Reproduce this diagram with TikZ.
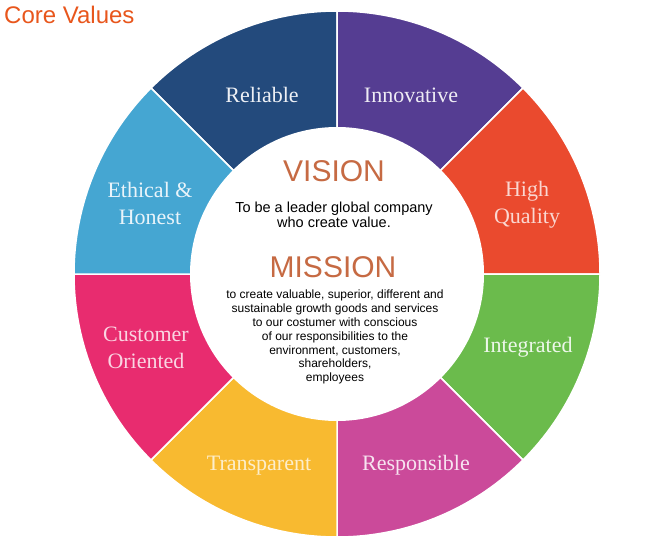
\documentclass[tikz,border=0pt]{standalone}
\usepackage{fontspec}
\setmainfont{Liberation Serif}
\newfontfamily\sansfont{Liberation Sans}
\definecolor{reliable}{HTML}{234A7C}
\definecolor{innovative}{HTML}{553D92}
\definecolor{quality}{HTML}{EA4A2E}
\definecolor{integrated}{HTML}{6BBB4C}
\definecolor{responsible}{HTML}{CB4A9A}
\definecolor{transparent}{HTML}{F8BA30}
\definecolor{customer}{HTML}{E82C6F}
\definecolor{ethical}{HTML}{45A6D2}
\definecolor{titlecol}{HTML}{E8561C}
\definecolor{headcol}{HTML}{C66A43}
\tikzset{
  wedge/.style={draw=white, line width=1.5pt},
  value/.style={align=center, inner sep=0pt, font=\fontsize{22}{27}\selectfont},
  heading/.style={inner sep=0pt, text=headcol, font=\sansfont\fontsize{30}{32}\selectfont},
  body/.style={align=center, inner sep=0pt}
}
\begin{document}
\begin{tikzpicture}[x=1pt,y=1pt]
\useasboundingbox (0,0) rectangle (650,550);
\coordinate (O) at (337,276);
% ring of values
\foreach \a/\c in {90/reliable, 45/innovative, 0/quality, -45/integrated,
  -90/responsible, -135/transparent, 180/customer, 135/ethical}
  \filldraw[wedge, fill=\c] (O) -- ++(\a:263) arc[start angle=\a, delta angle=45, radius=263] -- cycle;
\node (hub) [circle, fill=white, inner sep=0pt, minimum size=294pt] at (O) {};

\node (rel) [value, text=reliable!8] at (262,455) {Reliable};
\node (inn) [value, text=innovative!10] at (411,455) {Innovative};
\node (hiq) [value, text=quality!22] at (527,345) {High\\Quality};
\node (int) [value, text=integrated!12] at (528,203) {Integrated};
\node (res) [value, text=responsible!15] at (416,85) {Responsible};
\node (tra) [value, text=transparent!25] at (259,84) {Transparent};
\node (cus) [value, text=customer!20] at (146,202) {Customer\\Oriented};
\node (eth) [value, text=ethical!12] at (150,347) {Ethical \&\\Honest};

% centre text
\node (vision) [heading] at (334,379) {VISION};
\node (vistext) [body, font=\sansfont\fontsize{14.5}{15.5}\selectfont] at (334,335)
  {To be a leader global company\\who create value.};
\node (mission) [heading] at (333,283) {MISSION};
\node (mistext) [body, font=\sansfont\fontsize{12}{13.9}\selectfont] at (335,213)
  {to create valuable, superior, different and\\
   sustainable growth goods and services\\
   to our costumer with conscious\\
   of our responsibilities to the\\
   environment, customers,\\
   shareholders,\\
   employees};

\node (title) [anchor=base west, inner sep=0pt, text=titlecol,
  font=\sansfont\fontsize{24}{26}\selectfont] at (4,526) {Core Values};
\end{tikzpicture}
\end{document}
